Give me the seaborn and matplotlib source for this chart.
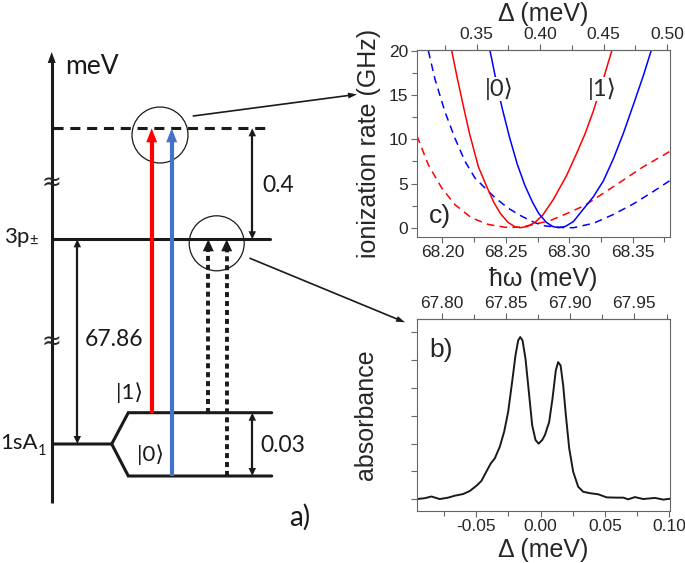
import numpy as np
import matplotlib
matplotlib.use('Agg')
import matplotlib.pyplot as plt
import seaborn as sns
from matplotlib.patches import Circle
from matplotlib.ticker import MultipleLocator, FormatStrFormatter, NullFormatter

# panel c: ionization rate (GHz) vs photon energy (meV)
red_solid_w = [68.2074, 68.2118, 68.2168, 68.2215, 68.2284, 68.2348, 68.2408, 68.2458, 68.2518, 68.2568, 68.2612,
               68.2667, 68.2730, 68.2790, 68.2875, 68.2979, 68.3058, 68.3124, 68.3190, 68.3260, 68.3335]
red_solid_r = [20, 16.9, 13.6, 10.6, 6.9, 4.7, 2.8, 1.6, 0.6, 0.14, 0.0,
               0.13, 0.6, 1.4, 3.2, 5.9, 8.4, 10.6, 13.2, 16.4, 20]
blue_solid_w = [68.2376, 68.2420, 68.2470, 68.2530, 68.2590, 68.2650, 68.2710, 68.2760, 68.2820, 68.2870, 68.2915,
                68.2970, 68.3033, 68.3111, 68.3190, 68.3269, 68.3348, 68.3427, 68.3505, 68.3584, 68.3645]
blue_solid_r = [20, 16.9, 13.6, 10.2, 7.2, 4.8, 2.9, 1.6, 0.6, 0.14, 0.0,
                0.15, 0.7, 2.1, 3.5, 5.3, 7.8, 10.7, 13.9, 17.2, 20]
red_dash_w = [68.1800, 68.1890, 68.1995, 68.2100, 68.2231, 68.2363, 68.2494, 68.2600, 68.2700, 68.2849,
              68.2980, 68.3120, 68.3269, 68.3427, 68.3584, 68.3742, 68.3800]
red_dash_r = [10.4, 7.1, 4.5, 2.6, 1.1, 0.37, 0.05, 0.05, 0.3, 0.8,
              1.6, 2.5, 3.9, 5.4, 6.9, 8.2, 8.7]
blue_dash_w = [68.1890, 68.1942, 68.2021, 68.2100, 68.2179, 68.2258, 68.2336, 68.2415, 68.2520, 68.2625,
               68.2730, 68.2810, 68.2950, 68.3033, 68.3191, 68.3348, 68.3506, 68.3663, 68.3800]
blue_dash_r = [20, 16.8, 13.1, 10.1, 7.5, 5.6, 4.5, 3.4, 2.2, 1.3,
               0.56, 0.2, 0.02, 0.0, 0.5, 1.5, 2.7, 4.1, 5.4]

# panel b: absorbance vs detuning (meV)
delta = [-0.0958, -0.0901, -0.0849, -0.0784, -0.0719, -0.0667, -0.0602, -0.0550, -0.0498, -0.0460,
         -0.0421, -0.0387, -0.0356, -0.0317, -0.0283, -0.0252, -0.0221, -0.0195, -0.0174, -0.0158,
         -0.0140, -0.0117, -0.0091, -0.0065, -0.0039, -0.0015, 0.0013, 0.0034, 0.0067, 0.0093,
         0.0119, 0.0137, 0.0156, 0.0176, 0.0197, 0.0223, 0.0254, 0.0293, 0.0332, 0.0384,
         0.0449, 0.0514, 0.0592, 0.0644, 0.0682, 0.0734, 0.0799, 0.0890, 0.0955, 0.1007]
absorb = [0.01, 0.04, 0.10, 0.01, 0.06, 0.13, 0.19, 0.30, 0.49, 0.66,
          1.00, 1.29, 1.47, 1.89, 2.43, 3.14, 4.22, 5.17, 5.71, 5.83,
          5.71, 5.05, 3.86, 2.66, 2.13, 2.00, 2.13, 2.31, 2.78, 3.62,
          4.64, 4.93, 4.81, 4.10, 3.02, 1.83, 0.99, 0.45, 0.27, 0.22,
          0.18, 0.07, 0.06, 0.06, 0.00, 0.08, 0.01, 0.05, -0.01, 0.02]

offset = 67.877  # hw = offset + delta

sns.set_theme(style='ticks')
plt.rcParams['font.family'] = ['Liberation Sans', 'DejaVu Sans']
plt.rcParams['axes.unicode_minus'] = False
diag_font = ['Lato', 'DejaVu Sans']

W, H = 685, 563
fig = plt.figure(figsize=(W / 100, H / 100), dpi=100)


def box(l, t, r, b):
    return [l / W, 1 - b / H, (r - l) / W, (b - t) / H]


# ---------- level diagram (pixel coordinates) ----------
axd = fig.add_axes([0, 0, 1, 1])
axd.set_xlim(0, W)
axd.set_ylim(H, 0)
axd.axis('off')


def head(tip, frm, w=8, l=9, color='k'):
    tx, ty = tip
    dx, dy = tx - frm[0], ty - frm[1]
    n = np.hypot(dx, dy)
    ux, uy = dx / n, dy / n
    bx, by = tx - ux * l, ty - uy * l
    px, py = -uy, ux
    axd.fill([tx, bx + px * w / 2, bx - px * w / 2], [ty, by + py * w / 2, by - py * w / 2],
             color=color, lw=0, zorder=5)


LW = 2.2
y_ion, y_3p, y_1s, y_1, y_0 = 128.3, 239.3, 444, 412.7, 476
x_ax = 51.7

axd.plot([x_ax, x_ax], [503, 60], color='k', lw=LW, solid_capstyle='butt')
head((x_ax, 52), (x_ax, 100), w=8, l=11)
axd.plot([53, 270], [y_ion, y_ion], color='k', lw=LW, ls=(0, (3.3, 2.2)))
axd.plot([53, 270], [y_3p, y_3p], color='k', lw=LW)
axd.plot([53, 111.7, 128.3, 271.7], [y_1s, y_1s, y_1, y_1], color='k', lw=LW, solid_joinstyle='miter')
axd.plot([111.7, 128.3, 271.7], [y_1s, y_0, y_0], color='k', lw=LW, solid_joinstyle='miter')

# optical transitions
axd.plot([151.7, 151.7], [y_1, 140], color='red', lw=3, solid_capstyle='butt')
head((151.7, y_ion), (151.7, 200), w=11, l=14, color='red')
axd.plot([171.7, 171.7], [y_0, 140], color='#4472C4', lw=3, solid_capstyle='butt')
head((171.7, y_ion), (171.7, 200), w=11, l=14, color='#4472C4')
for xd, y0 in [(208.3, y_1), (226.7, y_0)]:
    axd.plot([xd, xd], [y0, 251], color='k', lw=2.8, ls=(0, (1.3, 1.0)), dash_capstyle='butt')
    head((xd, y_3p), (xd, 300), w=11, l=12)

# energy spacings
for xd, ya, yb in [(77.3, y_3p, y_1s), (252.3, y_ion, y_3p), (252.3, y_1, y_0)]:
    axd.plot([xd, xd], [ya + 5, yb - 5], color='k', lw=1.6)
    head((xd, ya), (xd, yb), w=7.5, l=8)
    head((xd, yb), (xd, ya), w=7.5, l=8)

# zoom circles and connectors
axd.add_patch(Circle((160, 135), 28, fill=False, lw=0.9, ec='k'))
axd.add_patch(Circle((216.7, 243.3), 27.5, fill=False, lw=0.9, ec='k'))
axd.plot([193.3, 349], [116, 95.4], color='k', lw=1.2)
head((357, 94.4), (193.3, 116), w=6, l=9)
axd.plot([250, 398], [258.3, 319.4], color='k', lw=1.2)
head((405, 322.3), (250, 258.3), w=6, l=9)

tk = dict(family=diag_font, color='k', va='center')
axd.text(65, 67, 'meV', fontsize=19, ha='left', **tk)
axd.text(x_ax, 183, '≈', fontsize=17, ha='center', va='center', family='DejaVu Sans')
axd.text(x_ax, 342, '≈', fontsize=17, ha='center', va='center', family='DejaVu Sans')
axd.text(29, 237, '3p', fontsize=16, ha='right', **tk)
axd.text(29, 241, '±', fontsize=10.5, ha='left', **tk)
axd.text(38, 443, '1sA', fontsize=16, ha='right', **tk)
axd.text(38, 451, '1', fontsize=10.5, ha='left', **tk)
axd.text(85, 340, '67.86', fontsize=16.5, ha='left', **tk)
axd.text(262, 185, '0.4', fontsize=16.5, ha='left', **tk)
axd.text(260, 445, '0.03', fontsize=16.5, ha='left', **tk)
axd.text(130, 393, '|1⟩', fontsize=16, ha='center', **tk)
axd.text(151, 455, '|0⟩', fontsize=16, ha='center', **tk)
axd.text(300, 517, 'a)', fontsize=20, ha='center', **tk)

spine_c = '0.4'


def style_axes(ax):
    for s in ax.spines.values():
        s.set_color(spine_c)
        s.set_linewidth(0.8)
    ax.tick_params(which='both', direction='out', color=spine_c, width=0.8, labelsize=12.5, pad=2)
    ax.tick_params(which='major', length=4)
    ax.tick_params(which='minor', length=3.5)


# ---------- panel c ----------
axc = fig.add_axes(box(416.7, 50, 670, 237))
dash = (0, (5, 3.5))
sns.lineplot(x=red_dash_w, y=red_dash_r, ax=axc, color='red', lw=1.1, linestyle=dash)
sns.lineplot(x=blue_dash_w, y=blue_dash_r, ax=axc, color='blue', lw=1.1, linestyle=dash)
sns.lineplot(x=red_solid_w, y=red_solid_r, ax=axc, color='red', lw=1.1)
sns.lineplot(x=blue_solid_w, y=blue_solid_r, ax=axc, color='blue', lw=1.1)
axc.set_xlim(68.1798, 68.3794)
axc.set_ylim(-1.05, 20.1)
axc.xaxis.set_major_locator(MultipleLocator(0.05))
axc.xaxis.set_minor_locator(MultipleLocator(0.025))
axc.xaxis.set_major_formatter(FormatStrFormatter('%.2f'))
axc.yaxis.set_major_locator(MultipleLocator(5))
axc.yaxis.set_minor_locator(MultipleLocator(2.5))
style_axes(axc)
axc.set_xlabel('ħω (meV)', fontsize=18, labelpad=5)
axc.set_ylabel('ionization rate (GHz)', fontsize=18, labelpad=6)
topc = axc.secondary_xaxis('top', functions=(lambda x: x - offset, lambda d: d + offset))
topc.xaxis.set_major_locator(MultipleLocator(0.05))
topc.xaxis.set_minor_locator(MultipleLocator(0.025))
topc.xaxis.set_major_formatter(FormatStrFormatter('%.2f'))
style_axes(topc)
topc.set_xlabel('Δ (meV)', fontsize=18, labelpad=4)
lab = dict(family=diag_font, fontsize=17, ha='center', va='center', zorder=6,
           bbox=dict(fc='white', ec='none', pad=0.5))
axc.text(68.2447, 15.7, '|0⟩', **lab)
axc.text(68.3258, 15.7, '|1⟩', **lab)
axc.text(0.05, 0.11, 'c)', transform=axc.transAxes, fontsize=19, ha='left', va='center')

# ---------- panel b ----------
axb = fig.add_axes(box(417, 319, 670, 511))
sns.lineplot(x=delta, y=absorb, ax=axb, color='k', lw=1.4)
axb.set_xlim(-0.0961, 0.1007)
axb.set_ylim(-0.42, 6.48)
axb.xaxis.set_major_locator(MultipleLocator(0.05))
axb.xaxis.set_minor_locator(MultipleLocator(0.025))
axb.xaxis.set_major_formatter(FormatStrFormatter('%.2f'))
axb.yaxis.set_major_locator(MultipleLocator(1))
axb.yaxis.set_major_formatter(NullFormatter())
style_axes(axb)
axb.set_xlabel('Δ (meV)', fontsize=18, labelpad=3)
axb.set_ylabel('absorbance', fontsize=18, labelpad=22)
topb = axb.secondary_xaxis('top', functions=(lambda d: d + offset, lambda x: x - offset))
topb.xaxis.set_major_locator(MultipleLocator(0.05))
topb.xaxis.set_minor_locator(MultipleLocator(0.025))
topb.xaxis.set_major_formatter(FormatStrFormatter('%.2f'))
style_axes(topb)
axb.text(0.05, 0.84, 'b)', transform=axb.transAxes, fontsize=19, ha='left', va='center')

fig.savefig('out.png', dpi=100)
